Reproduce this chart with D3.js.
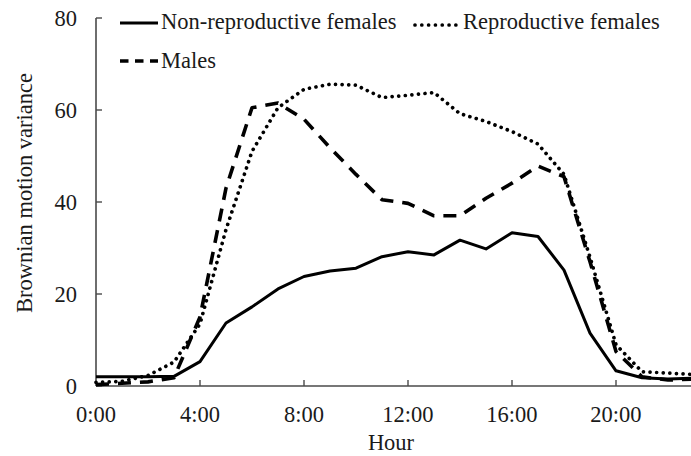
<!DOCTYPE html>
<html>
<head>
<meta charset="utf-8">
<script src="https://cdn.jsdelivr.net/npm/d3@7/dist/d3.min.js"></script>
<style>
  html, body { margin: 0; padding: 0; background: #fff; }
  svg { display: block; }
</style>
</head>
<body>
<div id="chart"></div>
<script>
const hours = d3.range(0, 24);
const xTickValues = [0, 4, 8, 12, 16, 20];
const xTickLabels = ["0:00", "4:00", "8:00", "12:00", "16:00", "20:00"];
const yTickValues = [0, 20, 40, 60, 80];

const nonReproductive = [2.0, 2.0, 2.0, 2.1, 5.3, 13.7, 17.2, 21.1, 23.8, 25.0, 25.6, 28.1, 29.2, 28.5, 31.7, 29.8, 33.3, 32.5, 25.2, 11.5, 3.3, 1.8, 1.5, 1.7];
const reproductive    = [0.8, 1.0, 2.3, 5.2, 13.5, 34.0, 51.0, 60.5, 64.5, 65.6, 65.4, 62.7, 63.2, 63.8, 59.2, 57.5, 55.3, 52.6, 46.0, 28.0, 9.0, 3.1, 2.8, 2.5];
const males           = [0.3, 0.6, 0.9, 1.8, 15.0, 43.0, 60.5, 61.5, 58.0, 51.8, 46.0, 40.5, 39.7, 37.0, 37.0, 40.8, 44.1, 47.8, 45.5, 27.0, 7.5, 2.0, 1.3, 1.5];

const seriesNames = ["Non-reproductive females", "Reproductive females", "Males"];

const W = 691, H = 456;
const svg = d3.select("#chart").append("svg").attr("width", W).attr("height", H);

const x = d3.scaleLinear().domain([0, 23]).range([96, 694]);
const y = d3.scaleLinear().domain([0, 80]).range([386, 18]);

const fontFamily = "'Liberation Serif', 'Times New Roman', 'DejaVu Serif', serif";
const fontSize = 22.5;
const textColor = "#1a1a1a";
const axisColor = "#4a4a4a";

function addText(sel) {
  return sel.attr("font-family", fontFamily).attr("font-size", fontSize).attr("fill", textColor);
}

// Axes lines
svg.append("line").attr("x1", x(0)).attr("x2", x(0)).attr("y1", y(80)).attr("y2", y(0))
  .attr("stroke", axisColor).attr("stroke-width", 1.6);
svg.append("line").attr("x1", x(0)).attr("x2", W).attr("y1", y(0)).attr("y2", y(0))
  .attr("stroke", axisColor).attr("stroke-width", 1.6);

// Y ticks (inward)
yTickValues.forEach(v => {
  svg.append("line").attr("x1", x(0)).attr("x2", x(0) + 6).attr("y1", y(v)).attr("y2", y(v))
    .attr("stroke", axisColor).attr("stroke-width", 1.4);
  addText(svg.append("text")).attr("x", 77).attr("y", y(v)).attr("dy", "0.34em")
    .attr("text-anchor", "end").text(v);
});

// X ticks (inward)
xTickValues.forEach((v, i) => {
  if (v !== 0) {
    svg.append("line").attr("x1", x(v)).attr("x2", x(v)).attr("y1", y(0)).attr("y2", y(0) - 6)
      .attr("stroke", axisColor).attr("stroke-width", 1.4);
  }
  addText(svg.append("text")).attr("x", x(v)).attr("y", 422)
    .attr("text-anchor", "middle").text(xTickLabels[i]);
});

// Axis titles
addText(svg.append("text")).attr("x", 391).attr("y", 450).attr("text-anchor", "middle").text("Hour");
addText(svg.append("text")).attr("transform", "translate(32,193) rotate(-90)")
  .attr("text-anchor", "middle").text("Brownian motion variance");

// Lines
const line = d3.line().x((d, i) => x(hours[i])).y(d => y(d));

const styles = [
  { data: nonReproductive, dash: null, width: 3, cap: "butt", legendDash: null },
  { data: reproductive, dash: "0.01 6.6", width: 3.7, cap: "round", legendDash: "0.01 6.8" },
  { data: males, dash: "13 9", width: 3.6, cap: "butt", legendDash: "8.5 6.5" }
];

styles.forEach(s => {
  svg.append("path").datum(s.data).attr("d", line)
    .attr("fill", "none").attr("stroke", "#000")
    .attr("stroke-width", s.width).attr("stroke-linejoin", "round")
    .attr("stroke-linecap", s.cap)
    .attr("stroke-dasharray", s.dash);
});

// Legend
const legendItems = [
  { x1: 120, x2: 158, ly: 23, tx: 161, ty: 29, s: styles[0], name: seriesNames[0] },
  { x1: 415, x2: 460, ly: 25, tx: 463, ty: 29, s: styles[1], name: seriesNames[1] },
  { x1: 120, x2: 158, ly: 61, tx: 161, ty: 68, s: styles[2], name: seriesNames[2] }
];
legendItems.forEach(l => {
  svg.append("line").attr("x1", l.x1).attr("x2", l.x2).attr("y1", l.ly).attr("y2", l.ly)
    .attr("stroke", "#000").attr("stroke-width", l.s.width)
    .attr("stroke-linecap", l.s.cap).attr("stroke-dasharray", l.s.legendDash);
  addText(svg.append("text")).attr("x", l.tx).attr("y", l.ty).text(l.name);
});
</script>
</body>
</html>
